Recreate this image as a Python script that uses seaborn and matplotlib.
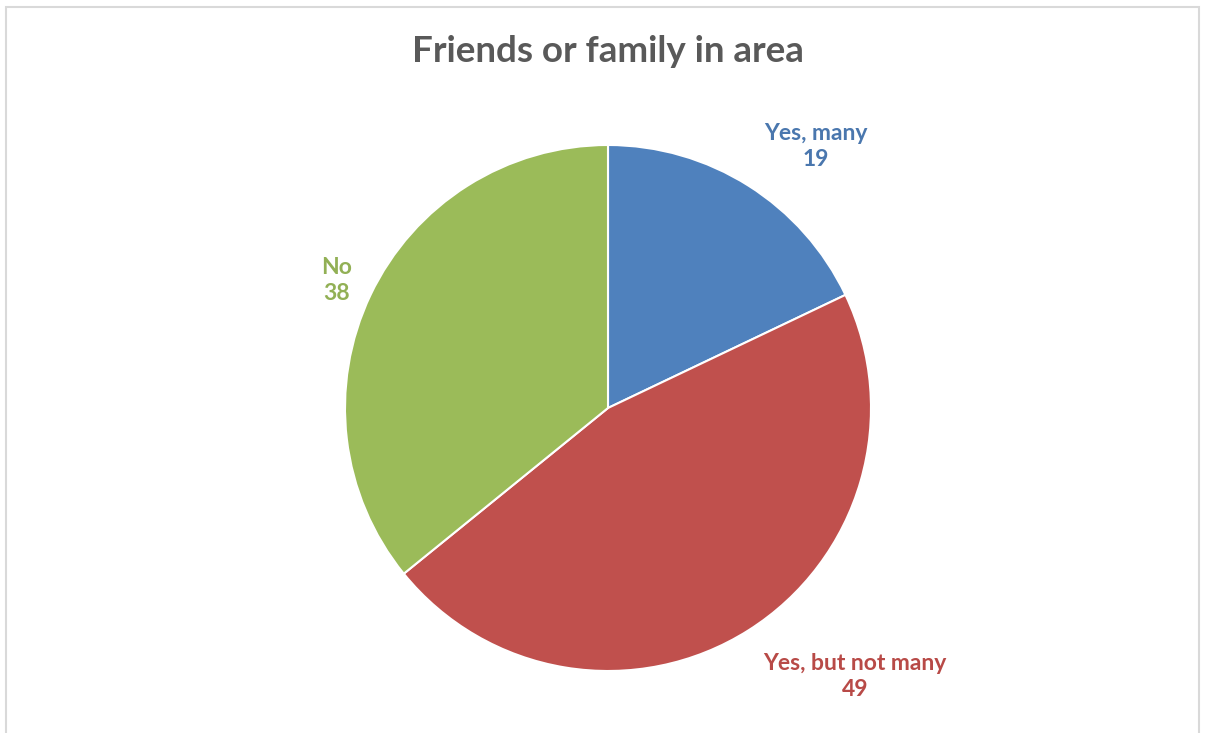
import matplotlib
matplotlib.use("Agg")
import matplotlib.pyplot as plt
from matplotlib.patches import Rectangle
import seaborn as sns

categories = ["Yes, many", "Yes, but not many", "No"]
counts = [19, 49, 38]
slice_colors = ["#4F81BD", "#C0504D", "#9BBB59"]
label_colors = ["#4A77AE", "#B84A47", "#92B055"]
title = "Friends or family in area"

sns.set_theme(style="white")
plt.rcParams["font.family"] = ["Lato", "DejaVu Sans"]

W, H = 1205, 733
fig = plt.figure(figsize=(W / 100, H / 100), dpi=100)
fig.patch.set_facecolor("white")

# light chart-area frame
fig.patches.append(Rectangle((6 / W, -0.01), (1199 - 6) / W, (H - 7) / H + 0.01,
                             transform=fig.transFigure, fill=False,
                             edgecolor="#D9D9D9", linewidth=1.5))

cx, cy, r = 608, 408, 263
ax = fig.add_axes([(cx - r) / W, (H - cy - r) / H, 2 * r / W, 2 * r / H])
wedges, _ = ax.pie(counts, colors=slice_colors, startangle=90, counterclock=False,
                   radius=1.0, wedgeprops=dict(edgecolor="white", linewidth=1.5))
ax.set_xlim(-1, 1)
ax.set_ylim(-1, 1)
ax.set_aspect("equal")
ax.axis("off")

label_pos = [(0.79, 0.995), (0.94, -1.022), (-1.033, 0.485)]
for name, val, col, (lx, ly) in zip(categories, counts, label_colors, label_pos):
    ax.text(lx, ly, f"{name}\n{val}", ha="center", va="center", color=col,
            fontsize=16.5, fontweight="bold", linespacing=1.3, clip_on=False)

fig.text(608 / W, (H - 52) / H, title, ha="center", va="center",
         fontsize=26.5, fontweight="bold", color="#595959")

fig.savefig("out.png", dpi=100)
